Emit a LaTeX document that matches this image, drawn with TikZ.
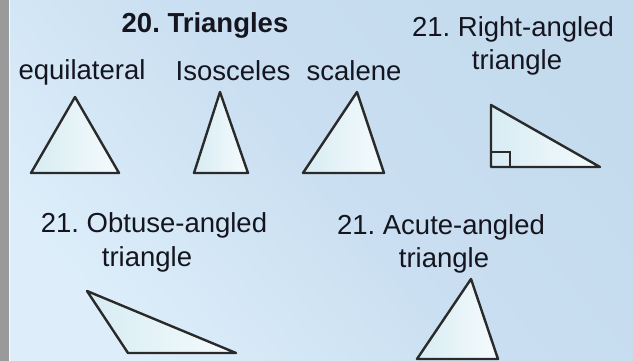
\documentclass[tikz,border=0pt]{standalone}
\usepackage{fontspec}
\setmainfont{Liberation Sans}
\frenchspacing
\definecolor{bgl}{HTML}{DDEEFA}
\definecolor{bgm}{HTML}{CADFF1}
\definecolor{bgr}{HTML}{C4DBEE}
\definecolor{barc}{HTML}{9A9A9A}
\definecolor{trl}{HTML}{D6ECF3}
\definecolor{trr}{HTML}{F6FBFD}
\definecolor{edge}{HTML}{2A2A2A}
\definecolor{txt}{HTML}{15151F}
\begin{document}
\begin{tikzpicture}[x=1pt,y=-1pt,
  lbl/.style={inner sep=0pt, anchor=base, text=txt, font=\fontsize{27.5}{33}\selectfont},
  tri/.style={draw=edge, line width=2.4pt, line join=round, left color=trl, right color=trr}]
\useasboundingbox (0,0) rectangle (633,361);
\fill[barc] (0,0) rectangle (9,361);
\shade[top color=bgr, bottom color=bgl, middle color=bgm, shading angle=-50] (9,0) rectangle (633,361);
\draw[white!85!bgl, line width=1pt] (9.5,0) -- (9.5,361);
% labels
\node[lbl, font=\fontsize{27.5}{33}\selectfont\bfseries] (title) at (205,33) {20. Triangles};
\node[lbl] (equi) at (82,80) {equilateral};
\node[lbl] (isos) at (233,81) {Isosceles};
\node[lbl] (scal) at (354,81) {scalene};
\node[lbl] (right1) at (513,37) {21. Right-angled};
\node[lbl] (right2) at (517,70) {triangle};
\node[lbl] (obt1) at (154,233) {21. Obtuse-angled};
\node[lbl] (obt2) at (147,266) {triangle};
\node[lbl] (acu1) at (441,234) {21. Acute-angled};
\node[lbl] (acu2) at (444,267) {triangle};
% triangles
\shadedraw[tri] (75,97) -- (119,173) -- (31,173) -- cycle;
\shadedraw[tri] (220,92) -- (248,173) -- (194,173) -- cycle;
\shadedraw[tri] (357,92) -- (384,173) -- (303,173) -- cycle;
\shadedraw[tri] (491,105) -- (600,167) -- (491,167) -- cycle;
\draw[edge, line width=2.4pt] (491,152) -- (510,152) -- (510,167);
\shadedraw[tri] (87,291) -- (236,353) -- (128,353) -- cycle;
\shadedraw[tri] (471,279) -- (498,359) -- (417,359) -- cycle;
\end{tikzpicture}
\end{document}
